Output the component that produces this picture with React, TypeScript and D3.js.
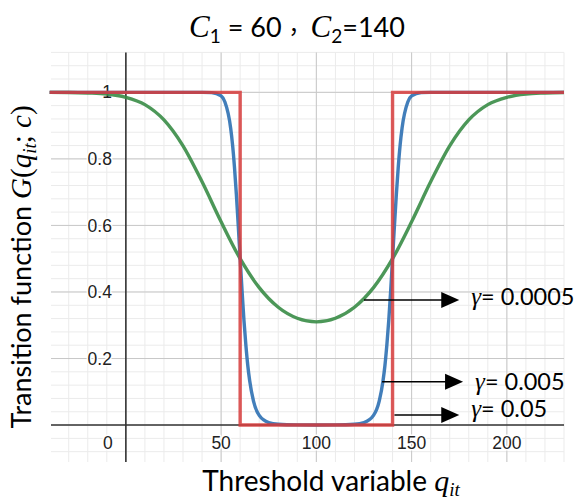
import React from "react";
import { scaleLinear, line, curveMonotoneX, curveLinear, range } from "d3";

const width = 576;
const height = 502;

// plot frame (pixels of the grid area)
const frame = { left: 51, right: 564, top: 52.4, bottom: 462 };

// tick labels
const xTicks = [0, 50, 100, 150, 200];
const yTicks = [0.2, 0.4, 0.6, 0.8, 1];
const yTickLabels = ["0.2", "0.4", "0.6", "0.8", "1"];

// gamma = 0.0005 (green)
const greenQ = [-40, -30, -20, -10, 0, 10, 20, 30, 40, 50, 60, 70, 80, 90, 100, 110, 120, 130, 140, 150, 160, 170, 180, 190, 200, 210, 220, 230];
const greenG = [0.9999, 0.9995, 0.998, 0.995, 0.985, 0.963, 0.917, 0.839, 0.731, 0.611, 0.5, 0.413, 0.354, 0.321, 0.31, 0.321, 0.354, 0.413, 0.5, 0.611, 0.731, 0.839, 0.917, 0.963, 0.985, 0.995, 0.998, 0.9995];

// gamma = 0.005 (blue)
const blueQ = [-40, 0, 40, 45, 50, 52, 55, 56, 57, 58, 59, 60, 61, 62, 63, 64, 65, 67, 70, 75, 80, 90, 100, 110, 120, 125, 130, 133, 135, 136, 137, 138, 139, 140, 141, 142, 143, 144, 145, 148, 150, 155, 160, 200, 230];
const blueG = [1, 1, 1, 0.9992, 0.989, 0.971, 0.893, 0.843, 0.776, 0.694, 0.6, 0.5, 0.4025, 0.314, 0.24, 0.179, 0.133, 0.072, 0.029, 0.0076, 0.0025, 0.0006, 0.0003, 0.0006, 0.0025, 0.0076, 0.029, 0.072, 0.133, 0.179, 0.24, 0.314, 0.4025, 0.5, 0.6, 0.694, 0.776, 0.843, 0.893, 0.971, 0.989, 0.9992, 1, 1, 1];

// gamma = 0.05 (red), practically a step
const redQ = [-40, 60, 60, 140, 140, 230];
const redG = [1, 1, 0, 0, 1, 1];

// annotations
const annoText = ["0.0005", "0.005", "0.05"];
const annoFromQ = [125, 134.5, 141];
const annoToQ = [175, 177, 175];
const annoY = [0.376, 0.13, 0.03];
const annoTextY = [0.386, 0.13, 0.05];

const xScale = scaleLinear().domain([-39.3, 230]).range([frame.left, frame.right]);
const yScale = scaleLinear().domain([-0.111, 1.12]).range([frame.bottom, frame.top]);

const minorX = range(-3, 24).map((i) => i * 10);
const minorY = range(-2, 29).map((i) => +(i * 0.04).toFixed(2));

const mathFont = "'Liberation Serif', 'DejaVu Serif', serif";
const textFont = "Lato, 'Open Sans', sans-serif";

const zip = (a: number[], b: number[]) => a.map((v, i) => [v, b[i]] as [number, number]);

export default function App() {
  const smooth = line<[number, number]>()
    .x((d) => xScale(d[0]))
    .y((d) => yScale(d[1]))
    .curve(curveMonotoneX);
  const step = line<[number, number]>()
    .x((d) => xScale(d[0]))
    .y((d) => yScale(d[1]))
    .curve(curveLinear);

  const x0 = xScale(0);
  const y0 = yScale(0);

  return (
    <svg width={width} height={height} style={{ position: "absolute", left: 0, top: 0, background: "#fff" }}>
      {/* minor grid */}
      <g stroke="#ebebeb" strokeWidth={1}>
        {minorX.map((q) => (
          <line key={"mx" + q} x1={xScale(q)} x2={xScale(q)} y1={frame.top} y2={frame.bottom} />
        ))}
        {minorY.map((g) => (
          <line key={"my" + g} x1={frame.left} x2={frame.right} y1={yScale(g)} y2={yScale(g)} />
        ))}
      </g>

      {/* major grid */}
      <g stroke="#c8c8c8" strokeWidth={1}>
        {xTicks.filter((q) => q !== 0).map((q) => (
          <line key={"Mx" + q} x1={xScale(q)} x2={xScale(q)} y1={frame.top} y2={frame.bottom} />
        ))}
        {yTicks.map((g) => (
          <line key={"My" + g} x1={frame.left} x2={frame.right} y1={yScale(g)} y2={yScale(g)} />
        ))}
      </g>

      {/* axes */}
      <g stroke="#333" strokeWidth={1.6}>
        <line x1={x0} x2={x0} y1={frame.top} y2={frame.bottom} />
        <line x1={frame.left} x2={frame.right} y1={y0} y2={y0} />
      </g>

      {/* tick labels */}
      <g fontFamily="'Liberation Sans', Arial, sans-serif" fontSize={17.5} fill="#222" stroke="#fff" strokeWidth={3} paintOrder="stroke" strokeLinejoin="round">
        {xTicks.map((q) => (
          <text key={"tx" + q} x={q === 0 ? x0 - 18 : xScale(q)} y={y0 + 24} textAnchor="middle">
            {q}
          </text>
        ))}
        {yTicks.map((g, i) => (
          <text key={"ty" + g} x={x0 - 14} y={yScale(g)} dy="0.35em" textAnchor="end">
            {yTickLabels[i]}
          </text>
        ))}
      </g>

      {/* curves */}
      <path d={smooth(zip(greenQ, greenG)) || ""} fill="none" stroke="#388c46" strokeWidth={3.4} strokeOpacity={0.9} />
      <path d={smooth(zip(blueQ, blueG)) || ""} fill="none" stroke="#2d70b3" strokeWidth={3.4} strokeOpacity={0.9} />
      <path d={step(zip(redQ, redG)) || ""} fill="none" stroke="#d63c3c" strokeWidth={3.4} strokeOpacity={0.85} />

      {/* annotations */}
      {annoText.map((t, i) => {
        const xa = xScale(annoFromQ[i]);
        const xb = xScale(annoToQ[i]);
        const ya = yScale(annoY[i]);
        return (
          <g key={"an" + i}>
            <line x1={xa} x2={xb - 16} y1={ya} y2={ya} stroke="#000" strokeWidth={1.5} />
            <path d={`M${xb},${ya} L${xb - 18},${ya - 8} L${xb - 18},${ya + 8} Z`} fill="#000" />
            <text x={xb + 12} y={yScale(annoTextY[i])} dy="0.36em" fontFamily={textFont} fontSize={23.5} fill="#000">
              <tspan fontFamily={mathFont} fontStyle="italic" fontSize={25}>γ</tspan>
              <tspan>= {t}</tspan>
            </text>
          </g>
        );
      })}

      {/* title */}
      <text x={297} y={37} textAnchor="middle" fontFamily={textFont} fontSize={27} fill="#000">
        <tspan fontFamily={mathFont} fontStyle="italic" fontSize={31}>C</tspan>
        <tspan fontSize={19} dy={6}>1</tspan>
        <tspan dy={-6}> = 60 </tspan>
        <tspan fontFamily="'Noto Sans CJK SC', sans-serif" fontSize={22} dy={-4}>，</tspan>
        <tspan fontFamily={mathFont} fontStyle="italic" fontSize={31} dy={4}>C</tspan>
        <tspan fontSize={19} dy={6}>2</tspan>
        <tspan dy={-6}>=140</tspan>
      </text>

      {/* x axis title */}
      <text x={331} y={491} textAnchor="middle" fontFamily={textFont} fontSize={28} fill="#000">
        Threshold variable{" "}
        <tspan fontFamily={mathFont} fontStyle="italic" fontSize={30}>q</tspan>
        <tspan fontFamily={mathFont} fontStyle="italic" fontSize={19} dy={5}>it</tspan>
      </text>

      {/* y axis title */}
      <text transform="translate(31,267) rotate(-90)" textAnchor="middle" fontFamily={textFont} fontSize={27} fill="#000">
        Transition function{" "}
        <tspan fontFamily={mathFont} fontStyle="italic" fontSize={29}>G</tspan>
        <tspan fontFamily={mathFont} fontSize={29}>(</tspan>
        <tspan fontFamily={mathFont} fontStyle="italic" fontSize={29}>q</tspan>
        <tspan fontFamily={mathFont} fontStyle="italic" fontSize={19} dy={5}>it</tspan>
        <tspan fontFamily={mathFont} fontSize={29} dy={-5}>; </tspan>
        <tspan fontFamily={mathFont} fontStyle="italic" fontSize={29}>c</tspan>
        <tspan fontFamily={mathFont} fontSize={29}>)</tspan>
      </text>
    </svg>
  );
}
